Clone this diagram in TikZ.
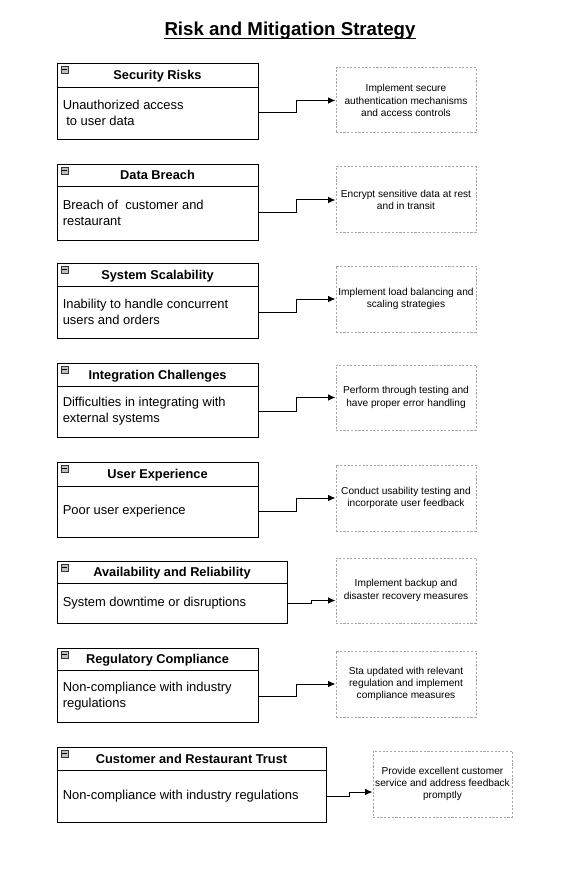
\documentclass[tikz,border=0pt]{standalone}
\usepackage{fontspec}
\setmainfont{Liberation Sans}
\usetikzlibrary{positioning,fit,calc,arrows.meta}

\begin{document}
\begin{tikzpicture}[x=0.75pt, y=-0.75pt,
  riskbox/.style={draw, line width=0.65pt, inner sep=0pt},
  headtext/.style={font=\bfseries\fontsize{9.6}{11}\selectfont, inner sep=0pt, text height=6.9pt, text depth=0pt},
  bodytext/.style={font=\fontsize{9.7}{12}\selectfont, align=left, anchor=west, inner sep=0pt},
  fixbox/.style={draw=gray!70, dash pattern=on 1.6pt off 1.2pt, line width=0.75pt, inner sep=0pt},
  fixtext/.style={align=center, inner sep=0pt, font=\fontsize{7.6}{9.2}\selectfont},
  icon/.style={draw=gray!40!black, fill=gray!50, line width=0.4pt, minimum size=5pt, inner sep=0pt,
    path picture={\draw[black, line width=0.6pt] ([xshift=0.8pt]path picture bounding box.west) -- ([xshift=-0.8pt]path picture bounding box.east);}},
  divider/.style={line width=0.65pt},
  elbow/.style={to path={-| ($(\tikztostart)!0.5!(\tikztotarget)$) |- (\tikztotarget)}},
  >={Latex[length=5.5pt, width=4.8pt]}]
\useasboundingbox (0,0) rectangle (572,877);

\node[font=\bfseries\fontsize{14}{17}\selectfont, inner sep=0pt, anchor=base] (title) at (290,36) {Risk and Mitigation Strategy};
\draw[line width=1.2pt] ([yshift=-2pt]title.base west) -- ([yshift=-2pt]title.base east);

%============ risks
\node[riskbox, fit={(57,63) (258,139)}] (risk1) {};
\node[icon, below right=2.6pt and 3.3pt of risk1.north west] {};
\node[headtext] (head1) at (157.5,75) {Security Risks};
\draw[divider] (risk1.west |- 0,87) -- (risk1.east |- 0,87);
\node[bodytext] (body1) at (62.5,113) {Unauthorized access\\\ to user data};

\node[riskbox, fit={(57,164) (258,240)}] (risk2) {};
\node[icon, below right=2.6pt and 3.3pt of risk2.north west] {};
\node[headtext] (head2) at (157.5,175) {Data Breach};
\draw[divider] (risk2.west |- 0,186) -- (risk2.east |- 0,186);
\node[bodytext] (body2) at (62.5,213) {Breach of\ \ customer and\\restaurant};

\node[riskbox, fit={(57,263) (258,338)}] (risk3) {};
\node[icon, below right=2.6pt and 3.3pt of risk3.north west] {};
\node[headtext] (head3) at (157.5,274.5) {System Scalability};
\draw[divider] (risk3.west |- 0,286) -- (risk3.east |- 0,286);
\node[bodytext] (body3) at (62.5,312) {Inability to handle concurrent\\users and orders};

\node[riskbox, fit={(57,363) (258,437)}] (risk4) {};
\node[icon, below right=2.6pt and 3.3pt of risk4.north west] {};
\node[headtext] (head4) at (157.5,374.5) {Integration Challenges};
\draw[divider] (risk4.west |- 0,386) -- (risk4.east |- 0,386);
\node[bodytext] (body4) at (62.5,411.5) {Difficulties in integrating with\\external systems};

\node[riskbox, fit={(57,462) (258,537)}] (risk5) {};
\node[icon, below right=2.6pt and 3.3pt of risk5.north west] {};
\node[headtext] (head5) at (157.5,474) {User Experience};
\draw[divider] (risk5.west |- 0,486) -- (risk5.east |- 0,486);
\node[bodytext] (body5) at (62.5,511.5) {Poor user experience};

\node[riskbox, fit={(57,561) (287,623)}] (risk6) {};
\node[icon, below right=2.6pt and 3.3pt of risk6.north west] {};
\node[headtext] (head6) at (172,572) {Availability and Reliability};
\draw[divider] (risk6.west |- 0,583) -- (risk6.east |- 0,583);
\node[bodytext] (body6) at (62.5,603) {System downtime or disruptions};

\node[riskbox, fit={(57,648) (258,722)}] (risk7) {};
\node[icon, below right=2.6pt and 3.3pt of risk7.north west] {};
\node[headtext] (head7) at (157.5,659) {Regulatory Compliance};
\draw[divider] (risk7.west |- 0,670) -- (risk7.east |- 0,670);
\node[bodytext] (body7) at (62.5,696) {Non-compliance with industry\\regulations};

\node[riskbox, fit={(57,747) (326,822)}] (risk8) {};
\node[icon, below right=2.6pt and 3.3pt of risk8.north west] {};
\node[headtext] (head8) at (191.5,758.5) {Customer and Restaurant Trust};
\draw[divider] (risk8.west |- 0,770) -- (risk8.east |- 0,770);
\node[bodytext] (body8) at (62.5,796) {Non-compliance with industry regulations};

%============ mitigations
\node[fixbox, fit={(336,68) (476,133)}] (fix1) {};
\node[fixtext] at (fix1.center) {Implement secure\\authentication mechanisms\\and access controls};
\node[fixbox, fit={(336,167) (476,233)}] (fix2) {};
\node[fixtext] at (fix2.center) {Encrypt sensitive data at rest\\and in transit};
\node[fixbox, fit={(336,266) (476,332)}] (fix3) {};
\node[fixtext] at (fix3.center) {Implement load balancing and\\scaling strategies};
\node[fixbox, fit={(336,365) (476,430)}] (fix4) {};
\node[fixtext] at (fix4.center) {Perform through testing and\\have proper error handling};
\node[fixbox, fit={(336,465) (476,531)}] (fix5) {};
\node[fixtext] at (fix5.center) {Conduct usability testing and\\incorporate user feedback};
\node[fixbox, fit={(336,558) (476,623)}] (fix6) {};
\node[fixtext] at (fix6.center) {Implement backup and\\disaster recovery measures};
\node[fixbox, fit={(336,651) (476,717)}] (fix7) {};
\node[fixtext] at (fix7.center) {Sta updated with relevant\\regulation and implement\\compliance measures};
\node[fixbox, fit={(373,751) (512,817)}] (fix8) {};
\node[fixtext] at (fix8.center) {Provide excellent customer\\service and address feedback\\promptly};

%==========
\draw[->, line width=0.75pt] (risk1.east |- body1) to[elbow] (fix1.west);
\draw[->, line width=0.75pt] (risk2.east |- body2) to[elbow] (fix2.west);
\draw[->, line width=0.75pt] (risk3.east |- body3) to[elbow] (fix3.west);
\draw[->, line width=0.75pt] (risk4.east |- body4) to[elbow] (fix4.west);
\draw[->, line width=0.75pt] (risk5.east |- body5) to[elbow] (fix5.west);
\draw[->, line width=0.75pt] (risk6.east |- body6) to[elbow] ([yshift=-7.5pt]fix6.west);
\draw[->, line width=0.75pt] (risk7.east |- body7) to[elbow] (fix7.west);
\draw[->, line width=0.75pt] (risk8.east |- body8) to[elbow] ([yshift=-6pt]fix8.west);

\end{tikzpicture}
\end{document}
